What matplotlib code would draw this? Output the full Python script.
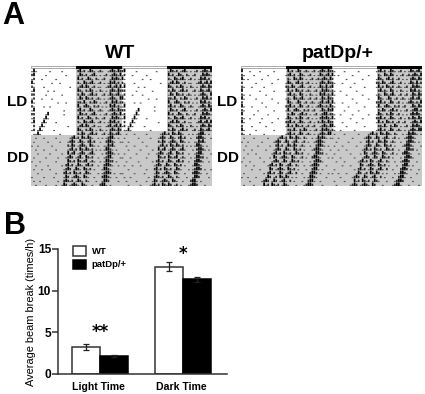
import matplotlib
matplotlib.use('Agg')
import matplotlib.pyplot as plt
from matplotlib.patches import Rectangle

plt.rcParams['font.family'] = ['Liberation Sans', 'DejaVu Sans']
plt.rcParams['font.weight'] = 'bold'

W, H = 425, 394

# activity per day, 45 bins, 0-3 (read by eye). double plotted: row i = day i + day i+1
wt_days = [
    "131000000100000100000002312013210121001232132",
    "230000010000000001000001321201231010120123213",
    "120001000000100000000003120132102101200132321",
    "310000000010001000000002103212310120101323120",
    "210000100000000000010001231320120110012312313",
    "130000001001000000000003210213201021010232132",
    "220000010000000100000002132012312001201321231",
    "120001000010000000000001320321201210101232103",
    "310000000000010001000002213102132010120132312",
    "210000100100000000000003102321021201010323121",
    "130000000000000010000002312013210121001232132",
    "220000013000000010000001321201231010120123213",
    "120000131000000000000003120132102101200132321",
    "130001310000100000000002103212310120101323120",
    "020013100000000000100001231320120110012312313",
    "120131000001000000000003210213201021010232132",
    "011310000000001000000002132012312001201321231",
    "001000100000100000012312032132100101012331010",
    "010000001000001000123201321023120010023321001",
    "100100000010000000213201232103210100113231000",
    "001000100000100000123120321321201010133210100",
    "000100000100000100312301232012310001023321010",
    "010000010000010001232012310321200100123310001",
    "100010000000100000321203212301210010133220100",
    "001000001000000102312013210231200100233210010",
    "010001000100000012320132103212010001332100000",
    "000100000000100023120321201321000101233201001",
    "100000100001000013201232103210010002332100100",
    "010010000000010023212013210210001001332000010",
    "001000010000100132012321032100100023310100000",
    "000100000100001231203213201201000123320001000",
]
pat_days = [
    "300010000100000010000003120132012101201232132",
    "210000100000010000000012312013210120101321231",
    "310100000010000000100002103213201012012123213",
    "200000010000000100000013210231201201010232132",
    "210001000001000000000022132012310120101321312",
    "300000000100000010000013120321201210120132321",
    "210010000000100000000002312103201021010323121",
    "310000010000000100000012103212310120120132132",
    "200000000010000000100003210132012012101231231",
    "310001000000100000000022312013201201012321213",
    "210000001000000010000013102321021201200132132",
    "300000100000010000000002132012312010120123312",
    "210010000010000000100013210213201201010232321",
    "310000000100000100000022312013210120102132132",
    "200001000000100000000013120321201201200123213",
    "310000010000000010000002213102132010120132321",
    "210010000001000000000012312013201210101232133",
    "010000100000010000123120321321021001013232101",
    "100100000010000012320132012310120100123321000",
    "001000001000001002312013213201210010023321010",
    "010001000000100012320132103212010001233210001",
    "000100010000000123120321201321200100133220100",
    "010000000100001032012321032101201002332100010",
    "100010000001000123201320132120100010233210000",
    "001000100000012312032012310210010012332000100",
    "000001000100003201232103212010001002331010000",
    "010000000001023120132012310200100023320100010",
    "100100010000132012032132010100010133210000100",
    "000010000012320132012310201000100233100100000",
    "010000100003120321201321000100012332000010000",
    "001000000123201232103200010000123310001000010",
]
ld_rows = 17

categories = ['Light Time', 'Dark Time']
wt_means = [3.2, 12.9]
wt_err = [0.35, 0.55]
pat_means = [2.2, 11.4]
pat_err = [0.1, 0.3]
y_ticks = [0, 5, 10, 15]
stars = ['**', '*']
star_y = [5.0, 14.4]

tone = {'1': '#555555', '2': '#2a2a2a', '3': '#000000'}


def px_axes(fig, x0, y0, x1, y1):
    return fig.add_axes([x0 / W, 1 - y1 / H, (x1 - x0) / W, (y1 - y0) / H])


def actogram(fig, x0, x1, days, title, title_x):
    ax = px_axes(fig, x0, 65, x1, 186)
    nrows = len(days) - 1
    nb = len(days[0])
    ax.set_xlim(0, 2 * nb)
    ax.set_ylim(nrows, -0.85)
    ax.axis('off')
    gray = '#c9c9c9'
    half = nb / 2
    # background
    ax.add_patch(Rectangle((half, 0), half, nrows, color=gray, lw=0))
    ax.add_patch(Rectangle((nb + half, 0), half, nrows, color=gray, lw=0))
    ax.add_patch(Rectangle((0, ld_rows), nb, nrows - ld_rows, color=gray, lw=0))
    ax.add_patch(Rectangle((nb, ld_rows - 1), nb, nrows - ld_rows + 1, color=gray, lw=0))
    # light/dark bar on top
    for i in range(4):
        c = 'black' if i % 2 else 'white'
        ec = 'black' if i % 2 else '#aaaaaa'
        ax.add_patch(Rectangle((i * half, -0.7), half, 0.5, fc=c, ec=ec, lw=0.7))
    # activity, snapping off or the bars come out uneven
    for r in range(nrows):
        for offset, day in ((0, days[r]), (nb, days[r + 1])):
            for c, v in enumerate(day):
                if v != '0':
                    h = int(v) * 0.3
                    ax.bar(offset + c + 0.5, h, width=0.85, bottom=r + 1 - h,
                           color=tone[v], lw=0, snap=False)
    fig.text(title_x / W, 1 - 53 / H, title, ha='center', va='center', fontsize=14)
    fig.text((x0 - 24) / W, 1 - 102 / H, 'LD', ha='left', va='center', fontsize=11)
    fig.text((x0 - 24) / W, 1 - 158 / H, 'DD', ha='left', va='center', fontsize=11)


fig = plt.figure(figsize=(W / 100, H / 100), dpi=100)

actogram(fig, 31, 212, wt_days, 'WT', 120)
actogram(fig, 241, 422, pat_days, 'patDp/+', 338)

fig.text(2 / W, 1 - 16 / H, 'A', ha='left', va='center', fontsize=22)
fig.text(4 / W, 1 - 226 / H, 'B', ha='left', va='center', fontsize=22)

# bar panel
ax = px_axes(fig, 58, 249, 227, 374)
edge = '#333333'
pos = [0, 1]
bw = 28 / 83
xs_wt = [p - bw / 2 for p in pos]
xs_pat = [p + bw / 2 for p in pos]
err_kw = dict(ecolor='#222222', capsize=2.5, elinewidth=0.9, capthick=0.9)
ax.bar(xs_wt, wt_means, bw, yerr=wt_err, color='white', edgecolor=edge, lw=1.1,
       error_kw=err_kw, label='WT')
ax.bar(xs_pat, pat_means, bw, yerr=pat_err, color='black', edgecolor='black', lw=1.1,
       error_kw=err_kw, label='patDp/+')
ax.set_xlim(-42 / 83, 127 / 83)
ax.set_ylim(0, 15)
ax.set_yticks(y_ticks)
ax.set_xticks([p - 2 / 83 for p in pos])
ax.set_xticklabels(categories, fontsize=7.6)
ax.tick_params(axis='y', labelsize=8.6, length=4, width=1.1, color=edge, pad=1)
ax.tick_params(axis='x', length=0, pad=6)
ax.spines['top'].set_visible(False)
ax.spines['right'].set_visible(False)
ax.spines['left'].set_linewidth(1.1)
ax.spines['bottom'].set_linewidth(1.1)
ax.spines['left'].set_color(edge)
ax.spines['bottom'].set_color(edge)
ax.set_ylabel('Average beam break (times/h)', fontsize=7.9, labelpad=1)
for p, s, y in zip(pos, stars, star_y):
    ax.text(p, y, s, ha='center', va='center', fontsize=12, family='DejaVu Sans')
ax.legend(loc='upper left', bbox_to_anchor=(0.09, 1.02), frameon=False, fontsize=6.8,
          handlelength=1.35, handleheight=1.1, handletextpad=0.6, labelspacing=0.35,
          borderpad=0, borderaxespad=0)

fig.savefig('out.png', dpi=100)
